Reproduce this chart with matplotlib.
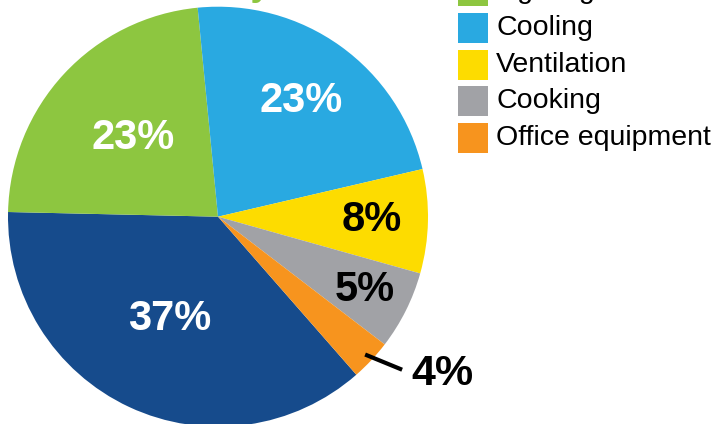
import numpy as np
import matplotlib.pyplot as plt
from matplotlib.patches import Rectangle

W, H = 727, 424

# slices go clockwise starting at Heating
categories = ['Heating', 'Lighting', 'Cooling', 'Ventilation', 'Cooking', 'Office equipment']
shares = [36.8, 23.1, 22.9, 8.0, 6.05, 3.15]
pct_labels = ['37%', '23%', '23%', '8%', '5%', '4%']
colors = ['#164B8C', '#8DC640', '#29A9E1', '#FDDC00', '#A1A2A6', '#F7941E']
label_colors = ['white', 'white', 'white', 'black', 'black', 'black']
label_r = [0.54, 0.55, 0.68, 0.73, 0.78, None]

fig = plt.figure(figsize=(W / 100, H / 100), dpi=100)

# pie centre at (218, 216.7) px from top-left, radius 210 px
cx, cy, r = 218, H - 216.7, 210
ax = fig.add_axes([(cx - r) / W, (cy - r) / H, 2 * r / W, 2 * r / H])
wedges, _ = ax.pie(shares, colors=colors, startangle=-48.8, counterclock=False,
                   radius=1, wedgeprops=dict(linewidth=0))
ax.set_xlim(-1, 1)
ax.set_ylim(-1, 1)
ax.set_aspect('equal')
ax.axis('off')

for w, lab, col, rr in zip(wedges, pct_labels, label_colors, label_r):
    mid = np.deg2rad((w.theta1 + w.theta2) / 2)
    if rr is not None:
        ax.text(rr * np.cos(mid), rr * np.sin(mid), lab, color=col, fontsize=30,
                fontweight='bold', family='Liberation Sans', ha='center', va='center')
    else:
        # small slice: leader line + label outside
        a1 = mid
        a2 = mid + np.deg2rad(3.4)
        a3 = mid + np.deg2rad(4.0)
        ax.plot([0.96 * np.cos(a1), 1.14 * np.cos(a2)], [0.96 * np.sin(a1), 1.14 * np.sin(a2)],
                color='black', lw=3, clip_on=False, solid_capstyle='butt')
        ax.text(1.19 * np.cos(a3), 1.19 * np.sin(a3), lab, color=col, fontsize=31,
                fontweight='bold', family='Liberation Sans', ha='left', va='center')

# legend drawn by hand, partly off the top edge
sq = 30
pitch = 36.7
top0 = 13 - 2 * pitch
for i, (name, col) in enumerate(zip(categories, colors)):
    top = top0 + i * pitch
    fig.add_artist(Rectangle((458 / W, 1 - (top + sq) / H), sq / W, sq / H,
                             transform=fig.transFigure, facecolor=col, edgecolor='none'))
    fig.text(496 / W, 1 - (top + sq / 2) / H, name, fontsize=20.5, family='Liberation Sans',
             ha='left', va='center', color='black')

# title sits above the crop, only the descender of the y shows
fig.text(271 / W, 1 + 5 / H, 'Electricity', ha='right', va='baseline', color='#8DC640',
         fontsize=26, fontweight='bold', family='Liberation Sans')

fig.savefig('out.png', dpi=100)
